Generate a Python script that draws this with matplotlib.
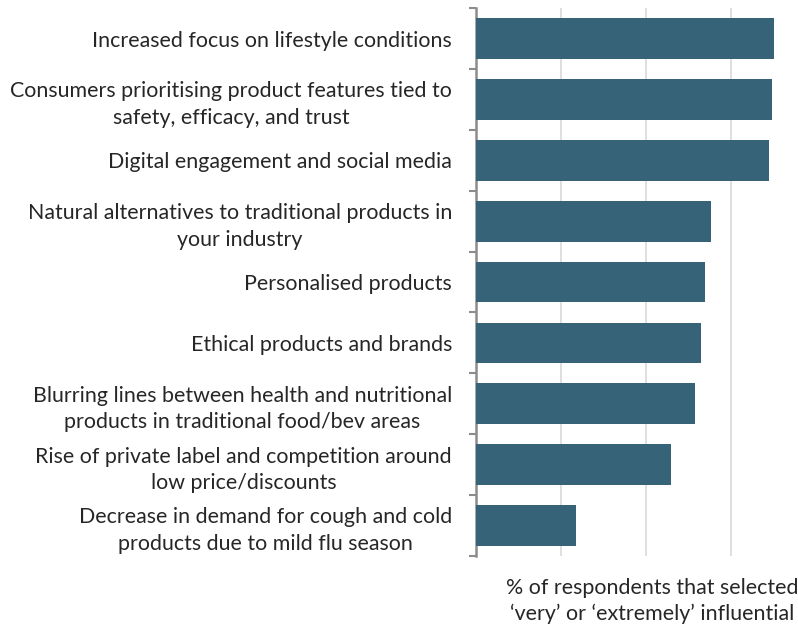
import matplotlib
matplotlib.use('Agg')
import matplotlib.pyplot as plt

plt.rcParams['font.family'] = ['Lato', 'DejaVu Sans']

labels = [
    'Increased focus on lifestyle conditions',
    'Consumers prioritising product features tied to\nsafety, efficacy, and trust',
    'Digital engagement and social media',
    'Natural alternatives to traditional products in\nyour industry',
    'Personalised products',
    'Ethical products and brands',
    'Blurring lines between health and nutritional\nproducts in traditional food/bev areas',
    'Rise of private label and competition around\nlow price/discounts',
    'Decrease in demand for cough and cold\nproducts due to mild flu season',
]
values = [70.1, 69.6, 68.9, 55.3, 53.9, 53.0, 51.6, 46.0, 23.6]
grid_ticks = [20, 40, 60]

bar_col = '#376379'
text_col = '#262626'
fs = 15.4

fig = plt.figure(figsize=(7.98, 6.31), dpi=100)
ax = fig.add_axes([0.596, 0.119, 0.404, 0.868])

pos = list(range(len(labels)))
ax.barh(pos, values, height=0.67, color=bar_col, zorder=3)
ax.set_ylim(len(labels) - 0.5, -0.5)
ax.set_xlim(0, 75.8)

# light vertical gridlines, no tick labels on x
ax.set_xticks(grid_ticks)
ax.set_xticklabels([])
ax.tick_params(axis='x', length=0)
ax.grid(axis='x', color='#d9d9d9', linewidth=1.2, zorder=0)

# category labels at bar centres, boundary ticks as minor ticks
ax.set_yticks(pos)
ax.set_yticklabels(labels, fontsize=fs, color=text_col, multialignment='center',
                   linespacing=1.4)
ax.tick_params(axis='y', which='major', length=0, pad=17)
ax.set_yticks([p - 0.5 for p in pos] + [len(labels) - 0.5], minor=True)
ax.tick_params(axis='y', which='minor', length=5, width=1.5, color='#8c8c8c')

for s in ['top', 'right', 'bottom']:
    ax.spines[s].set_visible(False)
ax.spines['left'].set_color('#8c8c8c')
ax.spines['left'].set_linewidth(1.8)

fig.text(652 / 798, 1 - 601 / 631,
         '% of respondents that selected\n\u2018very\u2019 or \u2018extremely\u2019 influential',
         ha='center', va='center', fontsize=fs, color=text_col, linespacing=1.35)

fig.savefig('out.png', dpi=100)
